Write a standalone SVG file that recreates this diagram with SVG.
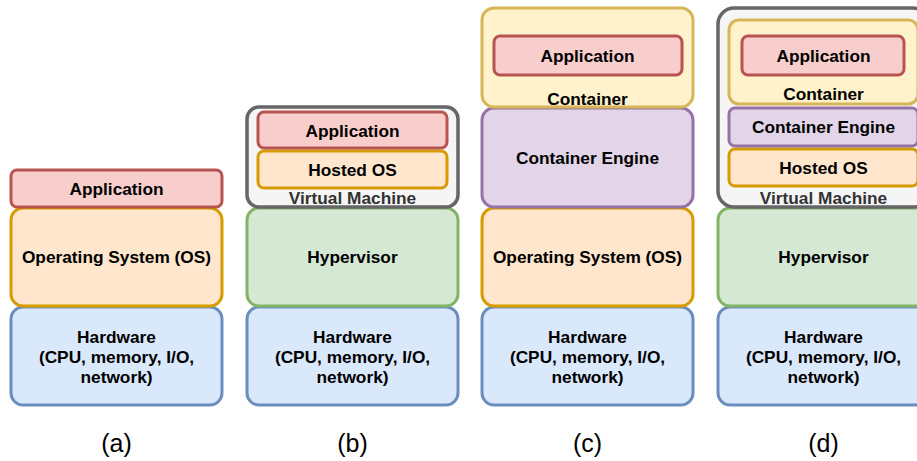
<svg xmlns="http://www.w3.org/2000/svg" width="917" height="461" viewBox="0 0 917 461">
<style>
rect{stroke-width:3}
.red{fill:#f8cecc;stroke:#b85450}
.org{fill:#ffe6cc;stroke:#d79b00}
.blu{fill:#dae8fc;stroke:#6c8ebf}
.grn{fill:#d5e8d4;stroke:#82b366}
.pur{fill:#e1d5e7;stroke:#9673a6}
.yel{fill:#fff2cc;stroke:#d6b656}
.vm{fill:#f5f5f5;stroke:#666666;stroke-width:3.5}
text{font-family:"Liberation Sans",Arial,sans-serif;font-size:17.3px;font-weight:bold;text-anchor:middle;fill:#000}
.vmt{fill:#333333}
.cap{font-weight:normal;font-size:25px}
</style>
<rect width="917" height="461" fill="#ffffff" style="stroke:none"/>
<!-- (a) -->
<g id="a-hw"><rect class="blu" x="11" y="307" width="211" height="98" rx="12"/><text x="116.5" y="343">Hardware</text><text x="116.5" y="363">(CPU, memory, I/O,</text><text x="116.5" y="383">network)</text></g>
<g id="a-os"><rect class="org" x="11" y="208" width="211" height="98" rx="12"/><text x="116.5" y="263">Operating System (OS)</text></g>
<g id="a-app"><rect class="red" x="11" y="170" width="211" height="37" rx="6"/><text x="116.5" y="195">Application</text></g>
<!-- (b) -->
<g id="b-hw"><rect class="blu" x="247" y="307" width="211" height="98" rx="12"/><text x="352.5" y="343">Hardware</text><text x="352.5" y="363">(CPU, memory, I/O,</text><text x="352.5" y="383">network)</text></g>
<g id="b-hyp"><rect class="grn" x="247" y="208" width="211" height="98" rx="12"/><text x="352.5" y="263">Hypervisor</text></g>
<g id="b-vm"><rect class="vm" x="247" y="107" width="211" height="100" rx="12"/><text class="vmt" x="352.5" y="204">Virtual Machine</text></g>
<g id="b-os"><rect class="org" x="258" y="151" width="189" height="37" rx="6"/><text x="352.5" y="176">Hosted OS</text></g>
<g id="b-app"><rect class="red" x="258" y="112" width="189" height="36" rx="6"/><text x="352.5" y="137">Application</text></g>
<!-- (c) -->
<g id="c-hw"><rect class="blu" x="482" y="307" width="211" height="98" rx="12"/><text x="587.5" y="343">Hardware</text><text x="587.5" y="363">(CPU, memory, I/O,</text><text x="587.5" y="383">network)</text></g>
<g id="c-os"><rect class="org" x="482" y="208" width="211" height="98" rx="12"/><text x="587.5" y="263">Operating System (OS)</text></g>
<g id="c-eng"><rect class="pur" x="482" y="108" width="211" height="99" rx="12"/><text x="587.5" y="164">Container Engine</text></g>
<g id="c-cont"><rect class="yel" x="482" y="8" width="211" height="99" rx="12"/><text x="587.5" y="105">Container</text></g>
<g id="c-app"><rect class="red" x="494" y="36" width="188" height="39" rx="6"/><text x="587.5" y="62">Application</text></g>
<!-- (d) -->
<g id="d-hw"><rect class="blu" x="718" y="307" width="211" height="98" rx="12"/><text x="823.5" y="343">Hardware</text><text x="823.5" y="363">(CPU, memory, I/O,</text><text x="823.5" y="383">network)</text></g>
<g id="d-hyp"><rect class="grn" x="718" y="208" width="211" height="98" rx="12"/><text x="823.5" y="263">Hypervisor</text></g>
<g id="d-vm"><rect class="vm" x="718" y="8" width="211" height="199" rx="16"/><text class="vmt" x="823.5" y="204">Virtual Machine</text></g>
<g id="d-os"><rect class="org" x="729" y="149" width="189" height="37" rx="6"/><text x="823.5" y="174">Hosted OS</text></g>
<g id="d-eng"><rect class="pur" x="729" y="108" width="189" height="38" rx="6"/><text x="823.5" y="133">Container Engine</text></g>
<g id="d-cont"><rect class="yel" x="729" y="20" width="189" height="84" rx="10"/><text x="823.5" y="100">Container</text></g>
<g id="d-app"><rect class="red" x="742" y="36" width="162" height="39" rx="6"/><text x="823.5" y="62">Application</text></g>
<g id="connectors"></g>
<!-- captions -->
<text class="cap" x="116.5" y="452">(a)</text>
<text class="cap" x="352.5" y="452">(b)</text>
<text class="cap" x="587.5" y="452">(c)</text>
<text class="cap" x="823.5" y="452">(d)</text>
</svg>
